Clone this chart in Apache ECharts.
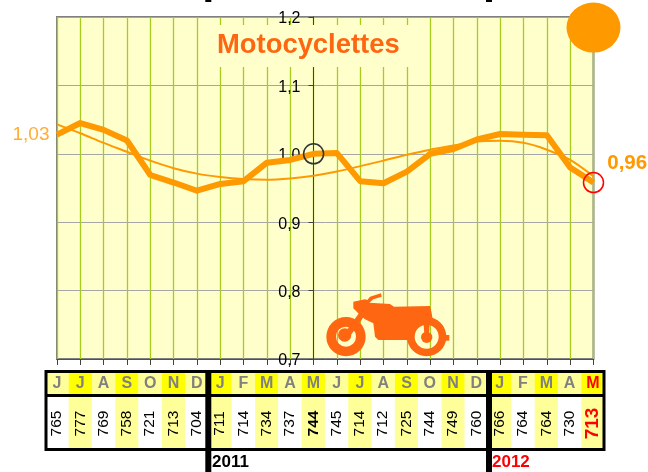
<!DOCTYPE html>
<html>
<head>
<meta charset="utf-8">
<style>html,body{margin:0;padding:0;background:#fff}#c{width:648px;height:472px}</style>
<script src="https://cdn.jsdelivr.net/npm/echarts@6/dist/echarts.min.js"></script>
</head>
<body>
<div id="c"></div>
<script>
var months = ['J','J','A','S','O','N','D','J','F','M','A','M','J','J','A','S','O','N','D','J','F','M','A','M'];
var counts = [765,777,769,758,721,713,704,711,714,734,737,744,745,714,712,725,744,749,760,766,764,764,730,713];
var ratio = [1.028,1.045,1.035,1.0195,0.969,0.958,0.946,0.956,0.96,0.987,0.991,1.0,1.001,0.96,0.957,0.974,1.0,1.007,1.021,1.029,1.028,1.027,0.98,0.958];
var trend = [1.043,1.030,1.016,1.003,0.990,0.979,0.971,0.966,0.963,0.962,0.964,0.968,0.974,0.982,0.990,0.9985,1.006,1.012,1.018,1.019,1.016,1.006,0.991,0.967];
var yTicks = {min:0.7, max:1.2, interval:0.1};
var years = ['2011','2012'];
var title = 'Motocyclettes';

var FONT = '"Liberation Sans", Arial, sans-serif';
var ORANGE = '#FF9900', DEEP = '#FF6611';
var last = months.length - 1;
function comma(v){ return v.toFixed(2).replace('.', ','); }

function cellRenderer(kind){
  return function(params, api){
    var i = api.value(0);
    var c = api.coord([i, 0.5]);
    var s = api.size([1, 1]);
    var yellow = i % 2 === 1;
    var fill = kind === 'h' ? (yellow ? '#FFFF00' : '#FFFF99') : (yellow ? '#FFFF99' : '#FFFFFF');
    var bold = kind === 'v' && (i === 11 || i === last);
    var txt = kind === 'h' ? months[i] : String(counts[i]);
    var color = i === last ? '#FF0000' : (kind === 'h' ? '#808080' : '#000000');
    var size = kind === 'h' ? 16 : (i === last ? 19 : 15.5);
    return {type:'group', children:[
      {type:'rect', shape:{x:c[0]-s[0]/2, y:c[1]-s[1]/2, width:s[0], height:s[1]}, style:{fill:fill}},
      {type:'text', x:c[0], y:c[1]+(kind==='h'?0.5:1), rotation: kind==='v' ? Math.PI/2 : 0,
       style:{text:txt, fill:color, align:'center', verticalAlign:'middle',
              font:((kind==='h'||bold)?'bold ':'')+size+'px '+FONT}}
    ]};
  };
}

var BK = {fill:'#000'};
var bikeOrange = {fill:DEEP};
var chart = echarts.init(document.getElementById('c'), null, {renderer:'canvas'});
chart.setOption({
  animation:false,
  backgroundColor:'#fff',
  title:{text:title, left:208, top:25, padding:[4,12,6,9], backgroundColor:'#FFFFCC', z:8,
    textStyle:{color:DEEP, fontFamily:FONT, fontWeight:'bold', fontSize:27.4, lineHeight:32}},
  grid:[
    {left:57, top:17, width:536.5, height:342, show:true, backgroundColor:'#FFFFCC', borderColor:'#808080', borderWidth:2},
    {left:45.35, top:371, width:559.2, height:24},
    {left:45.35, top:395, width:559.2, height:55}
  ],
  xAxis:[
    {gridIndex:0, type:'category', data:months, boundaryGap:false,
     axisLabel:{show:false}, axisLine:{onZero:false, lineStyle:{color:'#505050', width:1}},
     axisTick:{show:true, length:6, interval:0, lineStyle:{color:'#404040'}},
     splitLine:{show:true, interval:0, lineStyle:{color:'#A8CC1E', width:1.3}}},
    {gridIndex:1, type:'category', data:months, show:false},
    {gridIndex:2, type:'category', data:months, show:false}
  ],
  yAxis:[
    {gridIndex:0, type:'value', min:yTicks.min, max:yTicks.max, interval:yTicks.interval, offset:-256.5,
     axisLine:{show:true, lineStyle:{color:'#404040', width:1}},
     axisTick:{show:true, length:5, lineStyle:{color:'#404040'}},
     axisLabel:{color:'#000', fontFamily:FONT, fontSize:16, margin:13, verticalAlign:'top', lineHeight:18, padding:[-7,0,0,0], showMinLabel:true, showMaxLabel:true, hideOverlap:false,
       formatter:function(v){return v.toFixed(1).replace('.',',');}},
     splitLine:{show:true, lineStyle:{color:'#A6A6A6', width:1}}},
    {gridIndex:1, type:'value', min:0, max:1, show:false},
    {gridIndex:2, type:'value', min:0, max:1, show:false}
  ],
  series:[
    {type:'line', name:'trend', data:trend, symbol:'none', smooth:0.3, clip:false, z:3, lineStyle:{color:ORANGE, width:2}},
    {type:'line', name:'ratio', data:ratio, symbol:'none', clip:false, z:4, lineStyle:{color:ORANGE, width:6, join:'round'}},
    {type:'scatter', name:'ends', symbol:'circle', symbolSize:20, clip:false, z:6, silent:true,
     data:[
       {value:[11, ratio[11]], itemStyle:{opacity:1, color:'rgba(0,0,0,0)', borderColor:'#333333', borderWidth:1.5}},
       {value:[last, ratio[last]], itemStyle:{opacity:1, color:'rgba(0,0,0,0)', borderColor:'#FF0000', borderWidth:1.5},
        label:{show:true, position:'right', offset:[-2,-19], formatter:function(p){return comma(p.value[1]);},
               color:ORANGE, fontFamily:FONT, fontWeight:'bold', fontSize:20.5}}
     ]},
    {type:'scatter', name:'start', symbol:'circle', symbolSize:1, clip:false, z:6, silent:true,
     data:[[0, ratio[0]]], itemStyle:{color:'rgba(0,0,0,0)'},
     label:{show:true, position:'left', distance:7, formatter:function(p){return comma(p.value[1]);},
            color:ORANGE, fontFamily:FONT, fontSize:19}},
    {type:'scatter', name:'badge', symbol:'circle', symbolSize:[54,50], clip:false, z:7, silent:true,
     data:[[last, 1.1846]], itemStyle:{color:ORANGE, opacity:1}},
    {type:'custom', name:'months', xAxisIndex:1, yAxisIndex:1, coordinateSystem:'cartesian2d', clip:false,
     data:months.map(function(m,i){return [i,0.5];}), encode:{x:0,y:1}, renderItem:cellRenderer('h')},
    {type:'custom', name:'counts', xAxisIndex:2, yAxisIndex:2, coordinateSystem:'cartesian2d', clip:false,
     data:counts.map(function(m,i){return [i,0.5];}), encode:{x:0,y:1}, renderItem:cellRenderer('v')}
  ],
  graphic:[
    {type:'rect', z:20, shape:{x:46,y:371.5,width:558,height:78}, style:{fill:'none', stroke:'#000', lineWidth:3}},
    {type:'rect', z:20, shape:{x:46,y:394,width:558,height:3}, style:BK},
    {type:'rect', z:20, shape:{x:205.3,y:370,width:6,height:102}, style:BK},
    {type:'rect', z:20, shape:{x:486,y:370,width:6,height:102}, style:BK},
    {type:'rect', z:20, shape:{x:205.3,y:0,width:6,height:2}, style:BK},
    {type:'rect', z:20, shape:{x:486,y:0,width:6,height:2}, style:BK},
    {type:'text', z:20, x:212, y:454, style:{text:years[0], fill:'#000', font:'bold 17px '+FONT}},
    {type:'text', z:20, x:492, y:454, style:{text:years[1], fill:'#FF0000', font:'bold 17px '+FONT}},
    {type:'group', x:310, y:280, scaleX:1/3, scaleY:1/3, z:9, children:[
      {type:'ring', z:9, shape:{cx:108,cy:170,r:59,r0:30}, style:bikeOrange},
      {type:'circle', z:9, shape:{cx:104,cy:165,r:20}, style:bikeOrange},
      {type:'ring', z:9, shape:{cx:350,cy:170,r:59,r0:36}, style:bikeOrange},
      {type:'circle', z:9, shape:{cx:350,cy:172,r:17}, style:bikeOrange},
      {type:'polygon', z:9, shape:{points:[[150,95],[165,105],[118,172],[100,165]]}, style:bikeOrange},
      {type:'polygon', z:9, shape:{points:[[340,125],[360,125],[356,172],[344,172]]}, style:bikeOrange},
      {type:'polygon', z:9, shape:{points:[[395,165],[418,165],[418,182],[395,182]]}, style:bikeOrange},
      {type:'polygon', z:9, shape:{points:[[130,65],[165,58],[172,60],[180,50],[213,40],[215,50],[190,58],[178,68],[240,72],[252,80],[360,78],[365,100],[368,118],[340,118],[312,135],[300,160],[300,180],[205,180],[195,170],[190,130],[165,118],[150,105],[130,85]]}, style:bikeOrange}
    ]}
  ]
});
</script>
</body>
</html>
